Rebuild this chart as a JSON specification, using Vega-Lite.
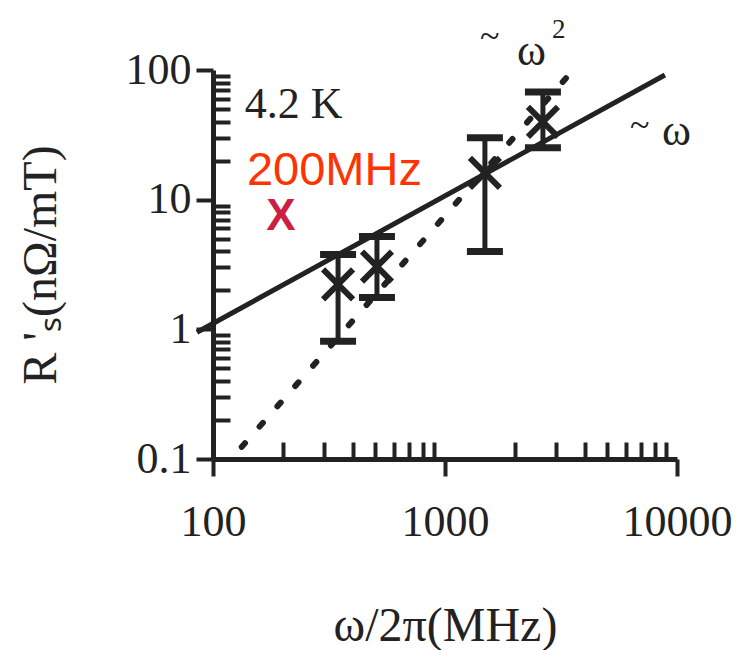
{
  "$schema": "https://vega.github.io/schema/vega-lite/v6.json",
  "width": 464,
  "height": 389,
  "autosize": "none",
  "padding": {"left": 213, "top": 70, "right": 71, "bottom": 191},
  "background": "white",
  "config": {"view": {"stroke": null}},
  "datasets": {
    "points": [
      {"f": 346, "v": 2.22, "lo": 0.81, "hi": 3.78},
      {"f": 509, "v": 3.05, "lo": 1.76, "hi": 5.19},
      {"f": 1486, "v": 16.1, "lo": 3.98, "hi": 30},
      {"f": 2643, "v": 39.8, "lo": 25.1, "hi": 67.8}
    ],
    "linear": [
      {"f": 85.3, "v": 0.949},
      {"f": 8870, "v": 91.6}
    ],
    "quad": [
      {"f": 133, "v": 0.124},
      {"f": 3631, "v": 103.6}
    ],
    "serifText": [
      {"f": 137, "v": 42.8, "t": "4.2 K"},
      {"f": 2042, "v": 109, "t": "ω"},
      {"f": 8610, "v": 26.5, "t": "ω"}
    ],
    "tilde": [
      {"f": 1416, "v": 147.6, "t": "~"},
      {"f": 6266, "v": 30.5, "t": "~"}
    ],
    "sup": [
      {"f": 2890, "v": 176, "t": "2"}
    ],
    "freqLabel": [
      {"f": 140, "v": 13.0, "t": "200MHz"}
    ],
    "redMark": [
      {"f": 196, "v": 5.8, "t": "X"}
    ]
  },
  "encoding": {
    "x": {
      "field": "f", "type": "quantitative",
      "scale": {"type": "log", "domain": [100, 10000], "nice": false},
      "axis": {
        "title": "ω/2π(MHz)",
        "values": [100, 200, 300, 400, 500, 600, 700, 800, 900, 1000, 2000, 3000, 4000, 5000, 6000, 7000, 8000, 9000, 10000],
        "format": "~g",
        "labelExpr": "datum.value == 100 || datum.value == 1000 || datum.value == 10000 ? datum.label : ''",
        "labelOverlap": false,
        "labelBound": false,
        "labelFlush": false,
        "labelFont": "Liberation Serif",
        "labelFontSize": 44,
        "labelColor": "#222",
        "labelPadding": 24,
        "tickColor": "#222",
        "tickWidth": 4,
        "tickSize": {"condition": {"test": "datum.value == 100 || datum.value == 1000 || datum.value == 10000", "value": 17}, "value": -17},
        "domainColor": "#222",
        "domainWidth": 5,
        "grid": false,
        "titleFont": "Liberation Serif",
        "titleFontSize": 48,
        "titleFontWeight": "normal",
        "titleColor": "#222",
        "titlePadding": 58
      }
    },
    "y": {
      "field": "v", "type": "quantitative",
      "scale": {"type": "log", "domain": [0.1, 100], "nice": false},
      "axis": {
        "title": "R 'ₛ(nΩ/mT)",
        "values": [0.1, 0.2, 0.3, 0.4, 0.5, 0.6, 0.7, 0.8, 0.9, 1, 2, 3, 4, 5, 6, 7, 8, 9, 10, 20, 30, 40, 50, 60, 70, 80, 90, 100],
        "format": "~g",
        "labelExpr": "datum.value == 0.1 || datum.value == 1 || datum.value == 10 || datum.value == 100 ? datum.label : ''",
        "labelOverlap": false,
        "labelBound": false,
        "labelFlush": false,
        "labelFont": "Liberation Serif",
        "labelFontSize": 44,
        "labelColor": "#222",
        "labelPadding": 5,
        "tickColor": "#222",
        "tickWidth": 4,
        "tickSize": {"condition": {"test": "datum.value == 0.1 || datum.value == 1 || datum.value == 10 || datum.value == 100", "value": 17}, "value": -17},
        "domainColor": "#222",
        "domainWidth": 5,
        "grid": false,
        "titleFont": "Liberation Serif",
        "titleFontSize": 48,
        "titleFontWeight": "normal",
        "titleColor": "#222",
        "titlePadding": 60
      }
    }
  },
  "layer": [
    {
      "data": {"name": "points"},
      "mark": {"type": "rule", "color": "#222", "strokeWidth": 5},
      "encoding": {
        "y": {"field": "lo", "type": "quantitative"},
        "y2": {"field": "hi"}
      }
    },
    {
      "data": {"name": "points"},
      "mark": {"type": "tick", "orient": "horizontal", "color": "#222", "size": 36, "thickness": 7, "opacity": 1},
      "encoding": {
        "y": {"field": "lo", "type": "quantitative"}
      }
    },
    {
      "data": {"name": "points"},
      "mark": {"type": "tick", "orient": "horizontal", "color": "#222", "size": 36, "thickness": 7, "opacity": 1},
      "encoding": {
        "y": {"field": "hi", "type": "quantitative"}
      }
    },
    {
      "data": {"name": "points"},
      "mark": {"type": "point", "shape": "M-1,-1L1,1M-1,1L1,-1", "filled": false, "stroke": "#222", "strokeWidth": 6, "size": 900, "opacity": 1}
    },
    {
      "data": {"name": "linear"},
      "mark": {"type": "line", "color": "#222", "strokeWidth": 5}
    },
    {
      "data": {"name": "quad"},
      "mark": {"type": "line", "color": "#222", "strokeWidth": 6, "strokeDash": [5, 22], "strokeCap": "round"}
    },
    {
      "data": {"name": "serifText"},
      "mark": {"type": "text", "font": "Liberation Serif", "fontSize": 44, "color": "#222", "align": "left", "baseline": "alphabetic"},
      "encoding": {"text": {"field": "t"}}
    },
    {
      "data": {"name": "tilde"},
      "mark": {"type": "text", "font": "Liberation Serif", "fontSize": 36, "color": "#222", "align": "left", "baseline": "alphabetic"},
      "encoding": {"text": {"field": "t"}}
    },
    {
      "data": {"name": "sup"},
      "mark": {"type": "text", "font": "Liberation Serif", "fontSize": 27, "color": "#222", "align": "left", "baseline": "alphabetic"},
      "encoding": {"text": {"field": "t"}}
    },
    {
      "data": {"name": "freqLabel"},
      "mark": {"type": "text", "font": "Liberation Sans", "fontSize": 47, "color": "#FF3300", "align": "left", "baseline": "alphabetic"},
      "encoding": {"text": {"field": "t"}}
    },
    {
      "data": {"name": "redMark"},
      "mark": {"type": "text", "font": "Liberation Sans", "fontSize": 44, "fontWeight": "bold", "color": "#CC1F44", "align": "center", "baseline": "alphabetic"},
      "encoding": {"text": {"field": "t"}}
    }
  ]
}
